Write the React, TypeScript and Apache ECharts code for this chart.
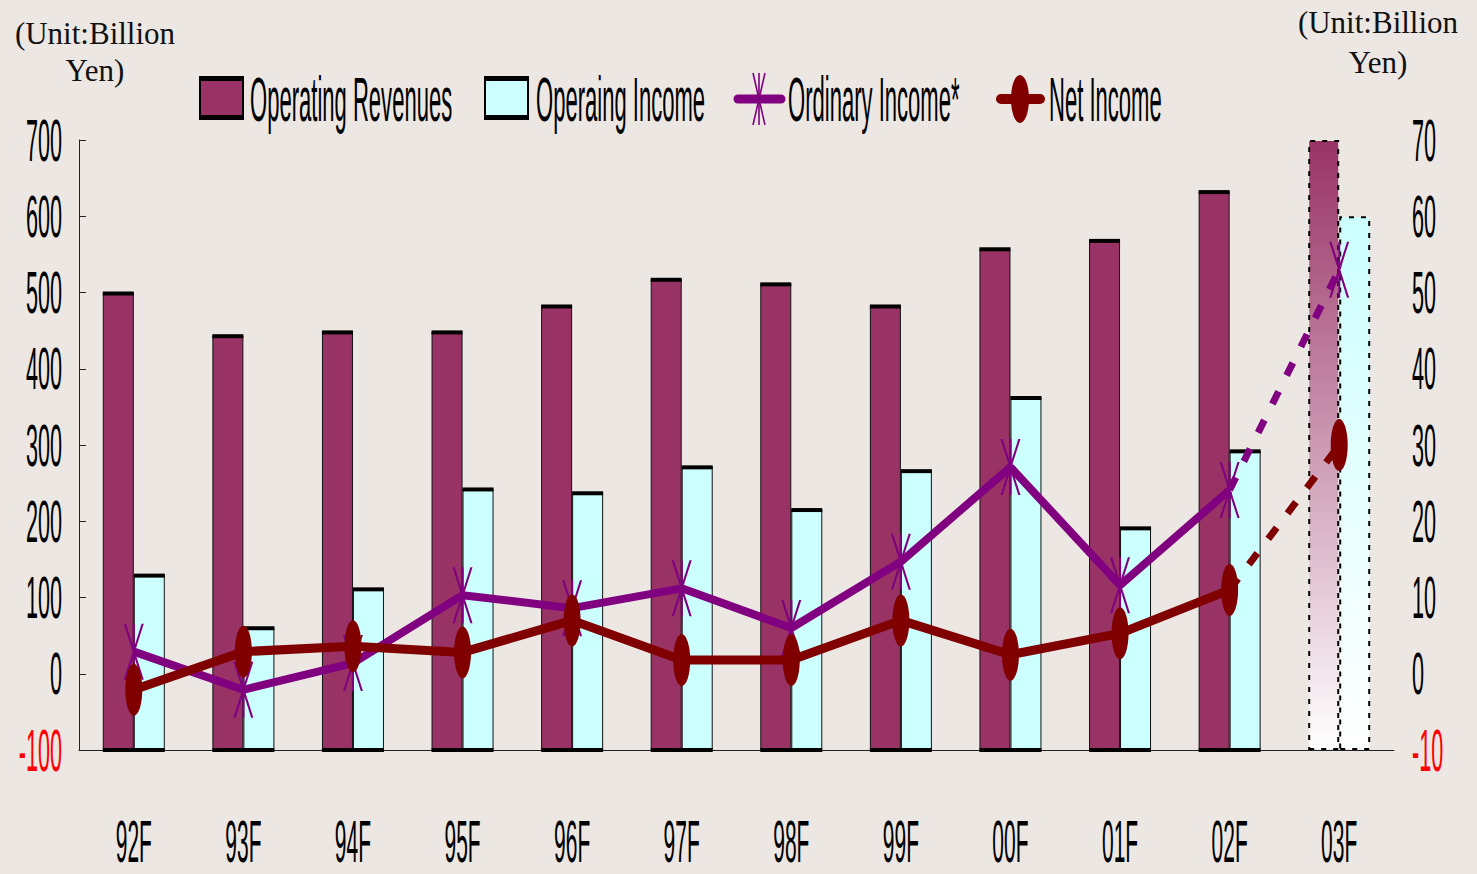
import React, { useEffect, useRef } from "react";
import * as echarts from "echarts";

const categories = ["92F", "93F", "94F", "95F", "96F", "97F", "98F", "99F", "00F", "01F", "02F", "03F"];
const operatingRevenues = [500, 444, 449, 449, 483, 518, 512, 483, 558, 569, 633, 700];
const operatingIncome = [13.0, 6.1, 11.2, 24.3, 23.8, 27.2, 21.6, 26.7, 36.3, 19.2, 29.3, 60];
const ordinaryIncome = [2.9, -2.1, 1.4, 10.3, 8.6, 11.2, 6.0, 14.7, 27.1, 11.6, 24.1];
const ordinaryForecast = ["-", "-", "-", "-", "-", "-", "-", "-", "-", "-", 24.1, 53];
const netIncome = [-2.1, 2.9, 3.6, 2.8, 7.0, 1.8, 1.8, 7.0, 2.5, 5.3, 11.0];
const netForecast = ["-", "-", "-", "-", "-", "-", "-", "-", "-", "-", 11.0, 30];
const forecastIndex = 11;
const leftTickValues = [-100, 0, 100, 200, 300, 400, 500, 600, 700];
const rightTickValues = [-10, 0, 10, 20, 30, 40, 50, 60, 70];
const legendNames = ["Operating Revenues", "Operaing Income", "Ordinary Income*", "Net Income"];
const unitText = "(Unit:Billion\nYen)";

const SANS = "'Liberation Sans', Arial, sans-serif";
const SERIF = "'Liberation Serif', 'Times New Roman', serif";
const ASTERISK = "path://M9,0h2v56h-2z M0,0L2.2,0L20,56L17.8,56z M17.8,0L20,0L2.2,56L0,56z";
const ELLIPSE = "path://M0,50A50,50,0,1,1,100,50A50,50,0,1,1,0,50Z";

const C_REV = "#993366";
const C_INC = "#CCFFFF";
const C_ORD = "#800080";
const C_NET = "#800000";
const BAR_W = 31;
const GRID = { left: 79, right: 83, top: 140, bottom: 124 };

export default function App() {
  const ref = useRef<HTMLDivElement>(null);
  useEffect(() => {
    if (!ref.current) return;
    const chart = echarts.init(ref.current, undefined, { renderer: "svg" });
    const grad = (c: string) =>
      new echarts.graphic.LinearGradient(0, 0, 0, 1, [
        { offset: 0, color: c },
        { offset: 1, color: "#FFFFFF" },
      ]);
    const revData = operatingRevenues.map((v, i) =>
      i === forecastIndex
        ? { value: v, itemStyle: { color: grad(C_REV), borderType: [5, 7], borderWidth: 2, borderColor: "#000" } }
        : v
    );
    const incData = operatingIncome.map((v, i) =>
      i === forecastIndex
        ? { value: v, itemStyle: { color: grad(C_INC), borderType: [5, 7], borderWidth: 2, borderColor: "#000" } }
        : v
    );
    const fcSym = (arr: any[]) =>
      arr.map((v, i) => (i === forecastIndex ? v : { value: v, symbol: "none" }));

    const stripe = (offsetSide: number, withBase: boolean, baseVal: number) => (params: any, api: any) => {
      const i = api.value(0);
      if (i === forecastIndex) return null;
      const top = api.coord([i, api.value(1)]);
      const base = api.coord([i, baseVal]);
      const children: any[] = [
        {
          type: "rect",
          shape: { x: offsetSide < 0 ? top[0] - BAR_W : top[0], y: top[1] - 1, width: BAR_W, height: 4 },
          style: { fill: "#000" },
        },
      ];
      if (withBase) {
        children.push({
          type: "rect",
          shape: { x: base[0] - BAR_W, y: base[1] - 2, width: BAR_W * 2, height: 4 },
          style: { fill: "#000" },
        });
      }
      return { type: "group", children };
    };

    const option: any = {
      animation: false,
      backgroundColor: "#ECE7E3",
      legend: { show: false, data: legendNames },
      grid: { ...GRID, outerBoundsMode: "none", containLabel: false },
      xAxis: {
        type: "category",
        data: categories,
        axisLine: { onZero: false, lineStyle: { color: "#222", width: 1 } },
        axisTick: { inside: true, length: 22, interval: 0, lineStyle: { color: "#222" } },
        axisLabel: { show: false },
      },
      yAxis: [
        {
          type: "value",
          min: leftTickValues[0],
          max: leftTickValues[leftTickValues.length - 1],
          interval: leftTickValues[2] - leftTickValues[1],
          startValue: leftTickValues[0],
          splitLine: { show: false },
          axisLine: { show: true, lineStyle: { color: "#222" } },
          axisTick: { show: true, inside: true, length: 7, lineStyle: { color: "#222" } },
          axisLabel: { show: false },
        },
        {
          type: "value",
          min: rightTickValues[0],
          max: rightTickValues[rightTickValues.length - 1],
          interval: rightTickValues[2] - rightTickValues[1],
          startValue: rightTickValues[0],
          splitLine: { show: false },
          axisLine: { show: false },
          axisTick: { show: false },
          axisLabel: { show: false },
        },
      ],
      series: [
        {
          name: legendNames[0],
          type: "bar",
          yAxisIndex: 0,
          data: revData,
          barWidth: BAR_W,
          barGap: "0%",
          itemStyle: { color: C_REV, borderColor: "#111", borderWidth: 1 },
          z: 2,
        },
        {
          name: legendNames[1],
          type: "bar",
          yAxisIndex: 1,
          data: incData,
          barWidth: BAR_W,
          barGap: "0%",
          itemStyle: { color: C_INC, borderColor: "#111", borderWidth: 1 },
          z: 2,
        },
        {
          name: "rev-edge",
          type: "custom",
          yAxisIndex: 0,
          data: operatingRevenues.map((v, i) => [i, v]),
          renderItem: stripe(-1, true, leftTickValues[0]),
          silent: true,
          z: 3,
        },
        {
          name: "inc-edge",
          type: "custom",
          yAxisIndex: 1,
          data: operatingIncome.map((v, i) => [i, v]),
          renderItem: stripe(1, false, rightTickValues[0]),
          silent: true,
          z: 3,
        },
        {
          name: legendNames[2],
          type: "line",
          yAxisIndex: 1,
          data: ordinaryIncome,
          symbol: ASTERISK,
          symbolSize: [20, 56],
          lineStyle: { color: C_ORD, width: 8 },
          itemStyle: { color: C_ORD },
          z: 5,
        },
        {
          name: "Ordinary Income* forecast",
          type: "line",
          yAxisIndex: 1,
          data: fcSym(ordinaryForecast),
          symbol: ASTERISK,
          symbolSize: [20, 56],
          lineStyle: { color: C_ORD, width: 7, type: [14, 18] },
          itemStyle: { color: C_ORD },
          z: 5,
        },
        {
          name: legendNames[3],
          type: "line",
          yAxisIndex: 1,
          data: netIncome,
          symbol: ELLIPSE,
          symbolSize: [17, 52],
          lineStyle: { color: C_NET, width: 9 },
          itemStyle: { color: C_NET },
          z: 6,
        },
        {
          name: "Net Income forecast",
          type: "line",
          yAxisIndex: 1,
          data: fcSym(netForecast),
          symbol: ELLIPSE,
          symbolSize: [17, 52],
          lineStyle: { color: C_NET, width: 7, type: [14, 18] },
          itemStyle: { color: C_NET },
          z: 6,
        },
      ],
    };
    chart.setOption(option);

    // Tall, condensed tick labels placed through the chart's own scales
    const g: any[] = [];
    const tickText = (text: string, x: number, y: number, align: string, color: string, sx: number) => ({
      type: "text",
      x,
      y,
      scaleX: sx,
      z: 10,
      style: { text, font: `60px ${SANS}`, fill: color, align, verticalAlign: "middle" },
    });
    leftTickValues.forEach((v) => {
      const y = chart.convertToPixel({ yAxisIndex: 0 }, v) as number;
      g.push(tickText(String(v), GRID.left - 17, y, "right", v < 0 ? "#FF0000" : "#000", 0.36));
    });
    rightTickValues.forEach((v) => {
      const y = chart.convertToPixel({ yAxisIndex: 1 }, v) as number;
      g.push(tickText(String(v), 1477 - GRID.right + 18, y, "left", v < 0 ? "#FF0000" : "#000", 0.36));
    });
    categories.forEach((c) => {
      const x = chart.convertToPixel({ xAxisIndex: 0 }, c) as number;
      g.push({
        type: "text",
        x,
        y: 874 - GRID.bottom + 91,
        scaleX: 0.35,
        z: 10,
        style: { text: c, font: `60px ${SANS}`, fill: "#000", align: "center", verticalAlign: "middle" },
      });
    });

    // unit captions
    g.push({
      type: "text",
      x: 95,
      y: 15,
      style: { text: unitText, font: `31px ${SERIF}`, fill: "#111", align: "center", verticalAlign: "top", lineHeight: 37 },
    });
    g.push({
      type: "text",
      x: 1378,
      y: 2,
      style: { text: unitText, font: `31px ${SERIF}`, fill: "#111", align: "center", verticalAlign: "top", lineHeight: 40 },
    });

    // legend
    const LY = 99;
    const legText = (text: string, x: number) => ({
      type: "text",
      x,
      y: LY,
      scaleX: 0.35,
      z: 10,
      style: { text, font: `63px ${SANS}`, fill: "#000", align: "left", verticalAlign: "middle" },
    });
    const boxIcon = (x: number, fill: string) => [
      { type: "rect", shape: { x, y: LY - 22, width: 43, height: 42 }, style: { fill, stroke: "#000", lineWidth: 2 } },
      { type: "rect", shape: { x: x - 1, y: LY - 23, width: 45, height: 5 }, style: { fill: "#000" } },
      { type: "rect", shape: { x: x - 1, y: LY + 16, width: 45, height: 5 }, style: { fill: "#000" } },
    ];
    g.push(...boxIcon(200, C_REV), legText(legendNames[0], 250));
    g.push(...boxIcon(485, C_INC), legText(legendNames[1], 536));
    g.push(
      { type: "line", shape: { x1: 738, y1: LY, x2: 781, y2: LY }, style: { stroke: C_ORD, lineWidth: 9, lineCap: "round" } },
      { type: "line", shape: { x1: 753, y1: LY - 26, x2: 765, y2: LY + 26 }, style: { stroke: C_ORD, lineWidth: 1.6 } },
      { type: "line", shape: { x1: 765, y1: LY - 26, x2: 753, y2: LY + 26 }, style: { stroke: C_ORD, lineWidth: 1.6 } },
      { type: "line", shape: { x1: 759, y1: LY - 26, x2: 759, y2: LY + 26 }, style: { stroke: C_ORD, lineWidth: 1.6 } },
      legText(legendNames[2], 788)
    );
    g.push(
      { type: "line", shape: { x1: 1001, y1: LY, x2: 1040, y2: LY }, style: { stroke: C_NET, lineWidth: 10, lineCap: "round" } },
      { type: "ellipse", shape: { cx: 1020, cy: LY, rx: 9, ry: 24 }, style: { fill: C_NET } },
      legText(legendNames[3], 1049)
    );

    chart.setOption({ graphic: g });
    return () => chart.dispose();
  }, []);
  return (
    <div
      ref={ref}
      style={{ position: "absolute", left: 0, top: 0, width: 1477, height: 874 }}
    />
  );
}
